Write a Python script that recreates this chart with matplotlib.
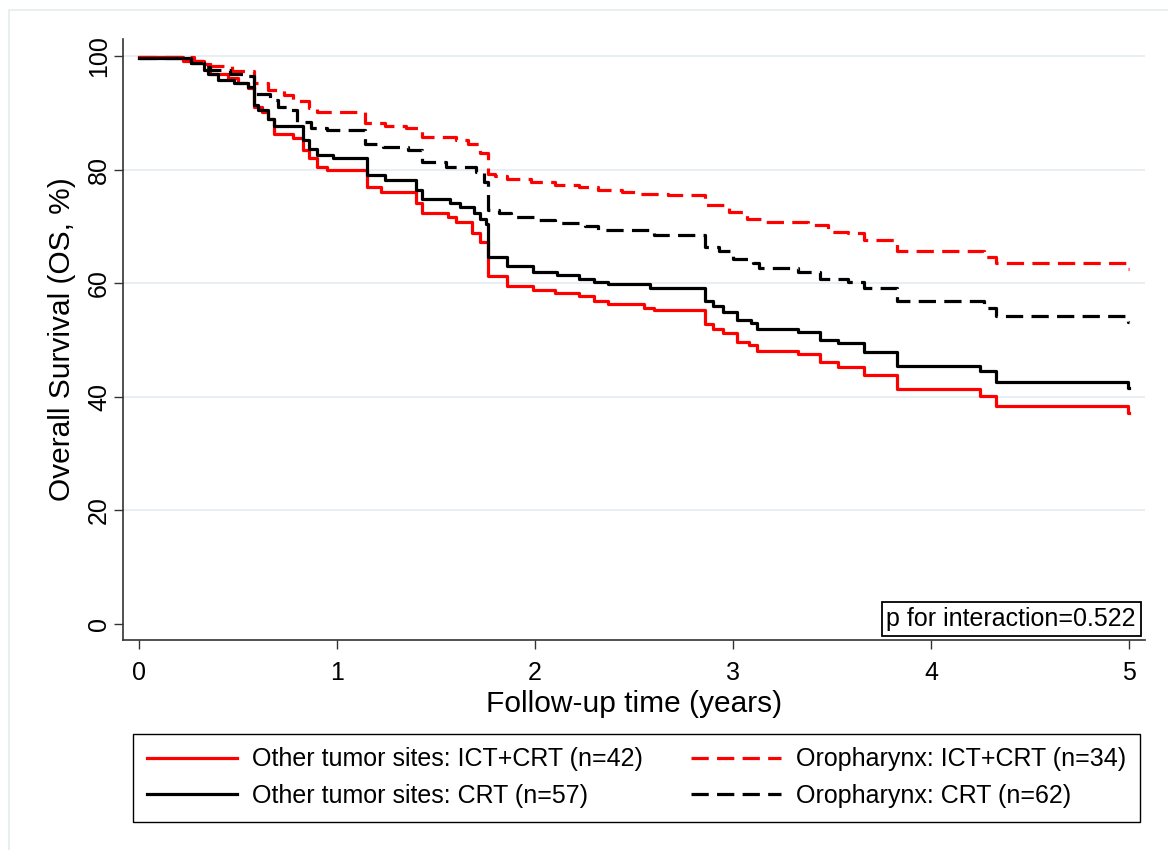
import matplotlib
matplotlib.use("Agg")
import matplotlib.pyplot as plt
from matplotlib.patches import Rectangle

plt.rcParams['font.family'] = ['Liberation Sans', 'DejaVu Sans']

# ---- data (step functions: value holds from each time onward) ----
other_ict_t = [0, 0.22, 0.33, 0.36, 0.45, 0.50, 0.55, 0.58, 0.62, 0.65, 0.68, 0.78, 0.83, 0.86, 0.90, 0.95,
               1.15, 1.22, 1.40, 1.43, 1.56, 1.60, 1.68, 1.72, 1.765, 1.86, 1.99, 2.10, 2.22, 2.30, 2.37,
               2.55, 2.60, 2.86, 2.90, 2.95, 3.02, 3.08, 3.12, 3.33, 3.44, 3.53, 3.66, 3.83, 4.25, 4.33, 4.995, 5.0]
other_ict_s = [99.8, 99.1, 98.6, 96.9, 96.1, 95.2, 94.3, 91.1, 90.2, 89.0, 86.2, 85.5, 83.4, 82.0, 80.5, 79.9,
               77.0, 76.1, 74.1, 72.3, 71.7, 70.8, 68.8, 67.3, 61.2, 59.5, 58.8, 58.2, 57.7, 56.8, 56.3,
               55.7, 55.3, 52.9, 52.0, 51.2, 49.7, 49.1, 48.1, 47.6, 46.2, 45.3, 43.9, 41.3, 40.1, 38.4, 37.2, 37.2]

other_crt_t = [0, 0.26, 0.33, 0.35, 0.40, 0.48, 0.55, 0.58, 0.60, 0.65, 0.68, 0.83, 0.86, 0.90, 0.98,
               1.15, 1.24, 1.40, 1.43, 1.57, 1.62, 1.69, 1.72, 1.75, 1.765, 1.86, 1.99, 2.11, 2.22, 2.30, 2.37,
               2.58, 2.86, 2.90, 2.95, 3.02, 3.09, 3.12, 3.33, 3.44, 3.53, 3.66, 3.83, 4.25, 4.33, 4.995, 5.0]
other_crt_s = [99.6, 98.7, 97.6, 96.9, 95.8, 95.2, 94.6, 91.4, 90.5, 89.0, 87.7, 85.2, 83.7, 82.5, 82.0,
               79.0, 78.2, 76.4, 74.9, 74.1, 73.5, 72.3, 71.4, 70.5, 64.7, 63.0, 62.0, 61.4, 60.8, 60.3, 59.8,
               59.1, 56.8, 56.0, 55.0, 53.6, 53.0, 52.0, 51.5, 50.1, 49.4, 47.9, 45.5, 44.6, 42.7, 41.5, 41.5]

oro_ict_t = [0, 0.28, 0.36, 0.47, 0.58, 0.65, 0.73, 0.78, 0.86, 0.90, 1.14, 1.24, 1.35, 1.43, 1.60, 1.66,
             1.72, 1.765, 1.80, 1.86, 1.98, 2.10, 2.22, 2.32, 2.44, 2.52, 2.67, 2.86, 2.98, 3.07, 3.15,
             3.38, 3.48, 3.58, 3.66, 3.83, 4.27, 4.33, 4.995, 5.0]
oro_ict_s = [99.8, 99.2, 98.2, 97.4, 95.2, 94.0, 93.1, 92.0, 90.8, 90.2, 88.3, 87.7, 87.4, 85.8, 85.2, 84.6,
             82.9, 79.3, 78.8, 78.4, 77.9, 77.3, 77.0, 76.5, 76.1, 75.8, 75.5, 73.8, 72.6, 71.4, 70.8,
             70.3, 69.1, 68.8, 67.6, 65.7, 64.7, 63.5, 62.5, 62.5]

oro_crt_t = [0, 0.26, 0.33, 0.36, 0.46, 0.55, 0.58, 0.66, 0.70, 0.76, 0.80, 0.87, 0.95, 1.14, 1.23, 1.36,
             1.43, 1.55, 1.70, 1.74, 1.765, 1.82, 1.88, 2.00, 2.10, 2.25, 2.32, 2.60, 2.86, 2.93, 3.00,
             3.10, 3.13, 3.33, 3.44, 3.58, 3.66, 3.83, 4.27, 4.33, 4.995, 5.0]
oro_crt_s = [99.6, 98.7, 98.0, 97.5, 96.9, 96.4, 93.4, 92.2, 91.1, 90.5, 88.4, 87.3, 86.9, 84.6, 83.9, 83.4,
             81.4, 80.5, 79.6, 77.9, 72.9, 72.4, 71.7, 71.1, 70.6, 70.0, 69.4, 68.5, 66.4, 65.6, 64.3,
             63.5, 62.6, 62.0, 60.8, 60.3, 59.1, 56.8, 55.6, 54.2, 53.2, 53.2]

labels = ["Other tumor sites: ICT+CRT (n=42)", "Other tumor sites: CRT (n=57)",
          "Oropharynx: ICT+CRT (n=34)", "Oropharynx: CRT (n=62)"]
x_ticks = [0, 1, 2, 3, 4, 5]
y_ticks = [0, 20, 40, 60, 80, 100]
p_text = "p for interaction=0.522"

W, H = 1168, 850
fig = plt.figure(figsize=(W / 100, H / 100), dpi=100)
fig.patch.set_facecolor('white')

# outer light frame
fig.add_artist(Rectangle((9 / W, -0.05), 1.2, 1 - 10 / H + 0.05, transform=fig.transFigure,
                         fill=False, edgecolor='#e4ecef', lw=1.2))

L, R, T, B = 123, 1145, 39, 640
ax = fig.add_axes([L / W, 1 - B / H, (R - L) / W, (B - T) / H])
ax.set_xlim(-0.081, 5.081)
ax.set_ylim(-2.8, 103.0)

for yv in y_ticks[1:]:
    ax.axhline(yv, color='#e6eef2', lw=1.3, zorder=0)

lw = 2.3
dash = (5.4, 2.6)
l1, = ax.step(other_ict_t, other_ict_s, where='post', color='#ff0000', lw=lw, label=labels[0])
l2, = ax.step(other_crt_t, other_crt_s, where='post', color='black', lw=lw, label=labels[1])
l3, = ax.step(oro_ict_t, oro_ict_s, where='post', color='#ff0000', lw=lw, label=labels[2])
l4, = ax.step(oro_crt_t, oro_crt_s, where='post', color='black', lw=lw, label=labels[3])
l3.set_dashes(dash)
l4.set_dashes(dash)

for s in ['top', 'right']:
    ax.spines[s].set_visible(False)
for s in ['left', 'bottom']:
    ax.spines[s].set_color('#333333')
    ax.spines[s].set_linewidth(1.2)

ax.set_xticks(x_ticks)
ax.set_yticks(y_ticks)
ax.tick_params(axis='both', direction='out', length=6.5, width=1.0, color='#333333', labelsize=18)
ax.tick_params(axis='x', pad=8.5)
ax.tick_params(axis='y', pad=2)
for lab in ax.get_yticklabels():
    lab.set_rotation(90)
    lab.set_va('center')

ax.set_xlabel("Follow-up time (years)", fontsize=21.5)
ax.xaxis.set_label_coords(0.5, (B - 704) / (B - T))
ax.xaxis.label.set_va('center')
ax.set_ylabel("Overall Survival (OS, %)", fontsize=21.5)
ax.yaxis.set_label_coords((62 - L) / (R - L), 0.5)
ax.yaxis.label.set_va('center')

# p-value box
ax.text((1136 - L) / (R - L), (B - 631) / (B - T), p_text, transform=ax.transAxes,
        ha='right', va='bottom', fontsize=18,
        bbox=dict(boxstyle='square,pad=0.2', facecolor='white', edgecolor='black', lw=1.3))

# legend
leg = fig.legend([l1, l2, l3, l4], labels, ncol=2, loc='center',
                 bbox_to_anchor=(133 / W, 1 - 822 / H, (1140 - 133) / W, (822 - 733) / H),
                 mode='expand', fontsize=18, frameon=True, fancybox=False, shadow=False,
                 handlelength=3.6, handletextpad=0.6, labelspacing=0.5, borderpad=0.55,
                 columnspacing=1.7, borderaxespad=0)
leg.get_frame().set_edgecolor('black')
leg.get_frame().set_linewidth(1.0)
leg.get_frame().set_alpha(1)

fig.savefig("out.png", dpi=100, facecolor='white')
